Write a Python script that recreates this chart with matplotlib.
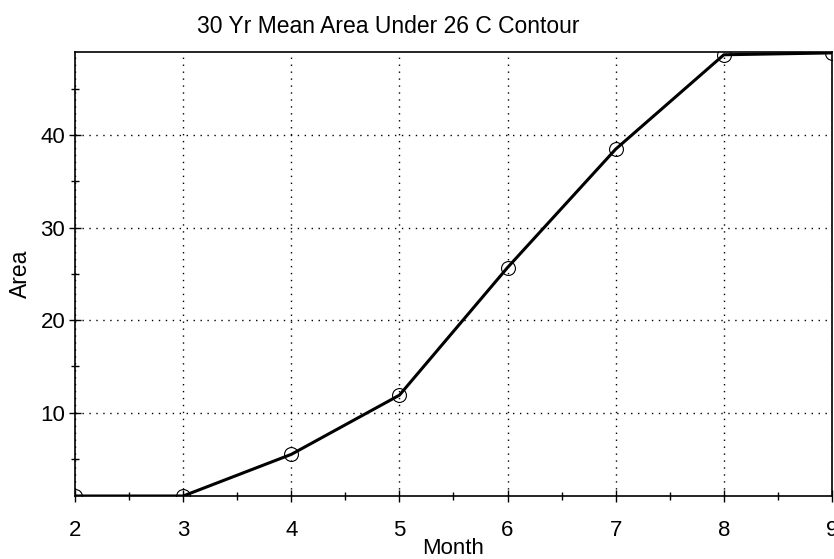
import matplotlib.pyplot as plt
from matplotlib.ticker import MultipleLocator

plt.rcParams['font.family'] = ['Liberation Sans', 'DejaVu Sans']

# data
month = [2, 3, 4, 5, 6, 7, 8, 9]
area = [1.0, 1.0, 5.5, 11.9, 25.7, 38.5, 48.7, 48.9]

fig = plt.figure(figsize=(8.34, 5.59), dpi=100)
ax = fig.add_axes([0.0899, 0.1127, 0.9077, 0.7943])

ax.plot(month, area, color='black', linewidth=2.2, zorder=3)
ax.plot(month, area, linestyle='none', marker='o', markersize=10,
        markerfacecolor='none', markeredgecolor='black', markeredgewidth=0.8,
        zorder=4)

ax.set_xlim(2, 9)
ax.set_ylim(1, 49)
ax.xaxis.set_major_locator(MultipleLocator(1))
ax.xaxis.set_minor_locator(MultipleLocator(0.5))
ax.yaxis.set_major_locator(MultipleLocator(10))
ax.yaxis.set_minor_locator(MultipleLocator(5))
ax.tick_params(which='major', direction='inout', length=8, width=1, labelsize=16)
ax.tick_params(which='minor', direction='inout', length=6, width=1)
ax.tick_params(axis='x', pad=13)
ax.tick_params(axis='y', pad=3)

ax.grid(True, which='major', color='black', linestyle=(0, (1, 4)), linewidth=1)

for s in ax.spines.values():
    s.set_linewidth(1.2)

ax.set_title('30 Yr Mean Area Under 26 C Contour', fontsize=16.5, pad=14, x=0.414)
ax.set_xlabel('Month', fontsize=16, labelpad=-2)
ax.set_ylabel('Area', fontsize=16.5, labelpad=6)

fig.savefig('out.png', dpi=100)
